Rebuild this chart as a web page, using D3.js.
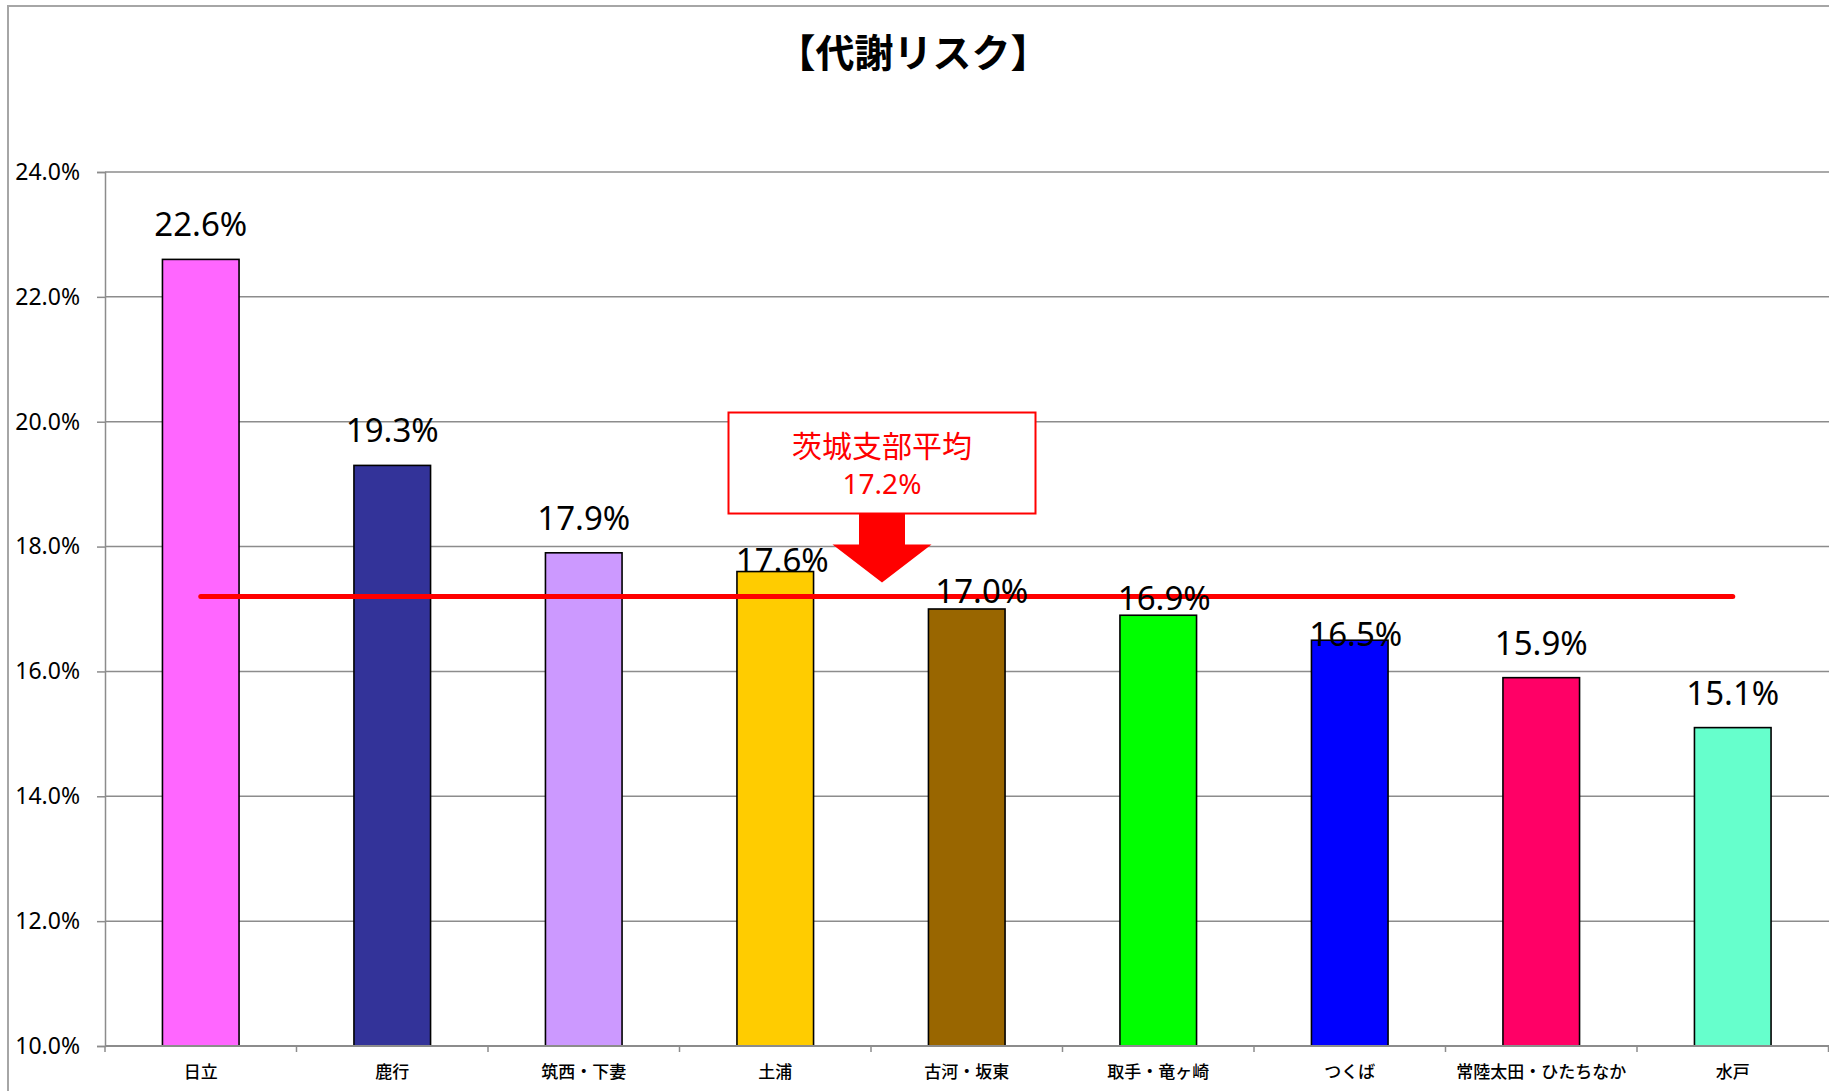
<!DOCTYPE html>
<html lang="ja">
<head>
<meta charset="utf-8">
<title>【代謝リスク】</title>
<script src="https://cdn.jsdelivr.net/npm/d3@7"></script>
<style>
  html, body { margin: 0; padding: 0; background: #ffffff; }
  svg { display: block; }
</style>
</head>
<body>
<svg id="chart" width="1829" height="1091"></svg>
<script>
// 支部別 代謝リスク該当率 (%)
const categories = ["日立", "鹿行", "筑西・下妻", "土浦", "古河・坂東", "取手・竜ヶ崎", "つくば", "常陸太田・ひたちなか", "水戸"];
const values = [22.6, 19.3, 17.9, 17.6, 17.0, 16.9, 16.5, 15.9, 15.1];
const barColors = ["#FF66FF", "#333399", "#CC99FF", "#FFCC00", "#996600", "#00FF00", "#0000FF", "#FF0066", "#66FFCC"];
const averageLabel = "茨城支部平均";
const averageValue = 17.2;
const yTicks = [10, 12, 14, 16, 18, 20, 22, 24];
const titleText = "【代謝リスク】";

// Hand-placed label nudges (dx, dy) where labels would collide with the average line
const labelNudge = [[0, 0], [0, 0], [0, 0], [7, 23], [15, 17], [6, 18], [6, 29], [0, 0], [0, 0]];

const svg = d3.select("#chart");
const W = 1829, H = 1091;
const plot = { left: 105, right: 1828.5, top: 172, bottom: 1046 };

const latin = "'Noto Sans', 'Open Sans', sans-serif";
const cjk = "'Noto Sans CJK JP', 'Noto Sans', sans-serif";

// chart-area frame
svg.append("rect")
  .attr("x", 8).attr("y", 6)
  .attr("width", W + 20).attr("height", H + 20)
  .attr("fill", "#ffffff")
  .attr("stroke", "#a6a6a6").attr("stroke-width", 2);

// title
svg.append("text")
  .attr("x", 913).attr("y", 67)
  .attr("text-anchor", "middle")
  .attr("font-family", cjk)
  .attr("font-weight", 700)
  .attr("font-size", 39)
  .attr("fill", "#000")
  .text(titleText);

const x = d3.scaleBand()
  .domain(categories)
  .range([plot.left, plot.right])
  .paddingInner(0.6)
  .paddingOuter(0.3);

const y = d3.scaleLinear()
  .domain([10, 24])
  .range([plot.bottom, plot.top]);

// horizontal gridlines
svg.append("g")
  .selectAll("line")
  .data(yTicks)
  .join("line")
  .attr("x1", plot.left).attr("x2", W)
  .attr("y1", d => y(d)).attr("y2", d => y(d))
  .attr("stroke", "#8c8c8c").attr("stroke-width", 1.5);

// y axis
const yAxis = svg.append("g")
  .attr("transform", `translate(${plot.left},0)`)
  .call(d3.axisLeft(y).tickValues(yTicks).tickSize(8).tickPadding(17)
    .tickFormat(d => d.toFixed(1) + "%"));
yAxis.select(".domain").attr("stroke", "#8c8c8c").attr("stroke-width", 1.5);
yAxis.selectAll(".tick line").attr("stroke", "#8c8c8c").attr("stroke-width", 1.5);
yAxis.selectAll(".tick text")
  .attr("font-family", latin)
  .attr("font-size", 23)
  .attr("fill", "#000");

// bars
svg.append("g")
  .selectAll("rect")
  .data(values)
  .join("rect")
  .attr("x", (d, i) => x(categories[i]))
  .attr("y", d => y(d))
  .attr("width", x.bandwidth())
  .attr("height", d => y(10) - y(d))
  .attr("fill", (d, i) => barColors[i])
  .attr("stroke", "#000").attr("stroke-width", 1.6);

// x axis: ticks at category boundaries
const step = x.step();
const boundaries = d3.range(categories.length + 1).map(i => plot.left + i * step);
svg.append("line")
  .attr("x1", plot.left).attr("x2", W)
  .attr("y1", plot.bottom).attr("y2", plot.bottom)
  .attr("stroke", "#8c8c8c").attr("stroke-width", 2);
svg.append("g")
  .selectAll("line")
  .data(boundaries)
  .join("line")
  .attr("x1", d => d).attr("x2", d => d)
  .attr("y1", plot.bottom).attr("y2", plot.bottom + 6)
  .attr("stroke", "#8c8c8c").attr("stroke-width", 1.5);
svg.append("g")
  .selectAll("text")
  .data(categories)
  .join("text")
  .attr("x", d => x(d) + x.bandwidth() / 2)
  .attr("y", 1078)
  .attr("text-anchor", "middle")
  .attr("font-family", cjk)
  .attr("font-weight", 500)
  .attr("font-size", 17)
  .attr("fill", "#000")
  .text(d => d);

// branch average line
const avgY = y(averageValue);
const firstC = x(categories[0]) + x.bandwidth() / 2;
const lastC = x(categories[categories.length - 1]) + x.bandwidth() / 2;
svg.append("line")
  .attr("x1", firstC).attr("x2", lastC)
  .attr("y1", avgY).attr("y2", avgY)
  .attr("stroke", "#FF0000").attr("stroke-width", 5)
  .attr("stroke-linecap", "round");

// value labels
svg.append("g")
  .selectAll("text")
  .data(values)
  .join("text")
  .attr("x", (d, i) => x(categories[i]) + x.bandwidth() / 2 + labelNudge[i][0])
  .attr("y", (d, i) => y(d) - 23 + labelNudge[i][1])
  .attr("text-anchor", "middle")
  .attr("font-family", latin)
  .attr("font-size", 33)
  .attr("fill", "#000")
  .text(d => d.toFixed(1) + "%");

// callout box with arrow pointing at the average line
const boxCx = 882, boxW = 307, boxH = 101;
const boxBottom = avgY - 83;
const boxTop = boxBottom - boxH;
svg.append("rect")
  .attr("x", boxCx - boxW / 2).attr("y", boxTop)
  .attr("width", boxW).attr("height", boxH)
  .attr("fill", "#ffffff")
  .attr("stroke", "#FF0000").attr("stroke-width", 2);
svg.append("text")
  .attr("x", boxCx).attr("y", boxTop + 44)
  .attr("text-anchor", "middle")
  .attr("font-family", cjk)
  .attr("font-size", 30)
  .attr("fill", "#FF0000")
  .text(averageLabel);
svg.append("text")
  .attr("x", boxCx).attr("y", boxTop + 81)
  .attr("text-anchor", "middle")
  .attr("font-family", latin)
  .attr("font-size", 28)
  .attr("fill", "#FF0000")
  .text(averageValue.toFixed(1) + "%");

const shaftHalf = 23, headHalf = 49.5, headTop = boxBottom + 31, tip = avgY - 14;
svg.append("path")
  .attr("d", d3.line()([
    [boxCx - shaftHalf, boxBottom],
    [boxCx + shaftHalf, boxBottom],
    [boxCx + shaftHalf, headTop],
    [boxCx + headHalf, headTop],
    [boxCx, tip],
    [boxCx - headHalf, headTop],
    [boxCx - shaftHalf, headTop]
  ]) + "Z")
  .attr("fill", "#FF0000");
</script>
</body>
</html>
